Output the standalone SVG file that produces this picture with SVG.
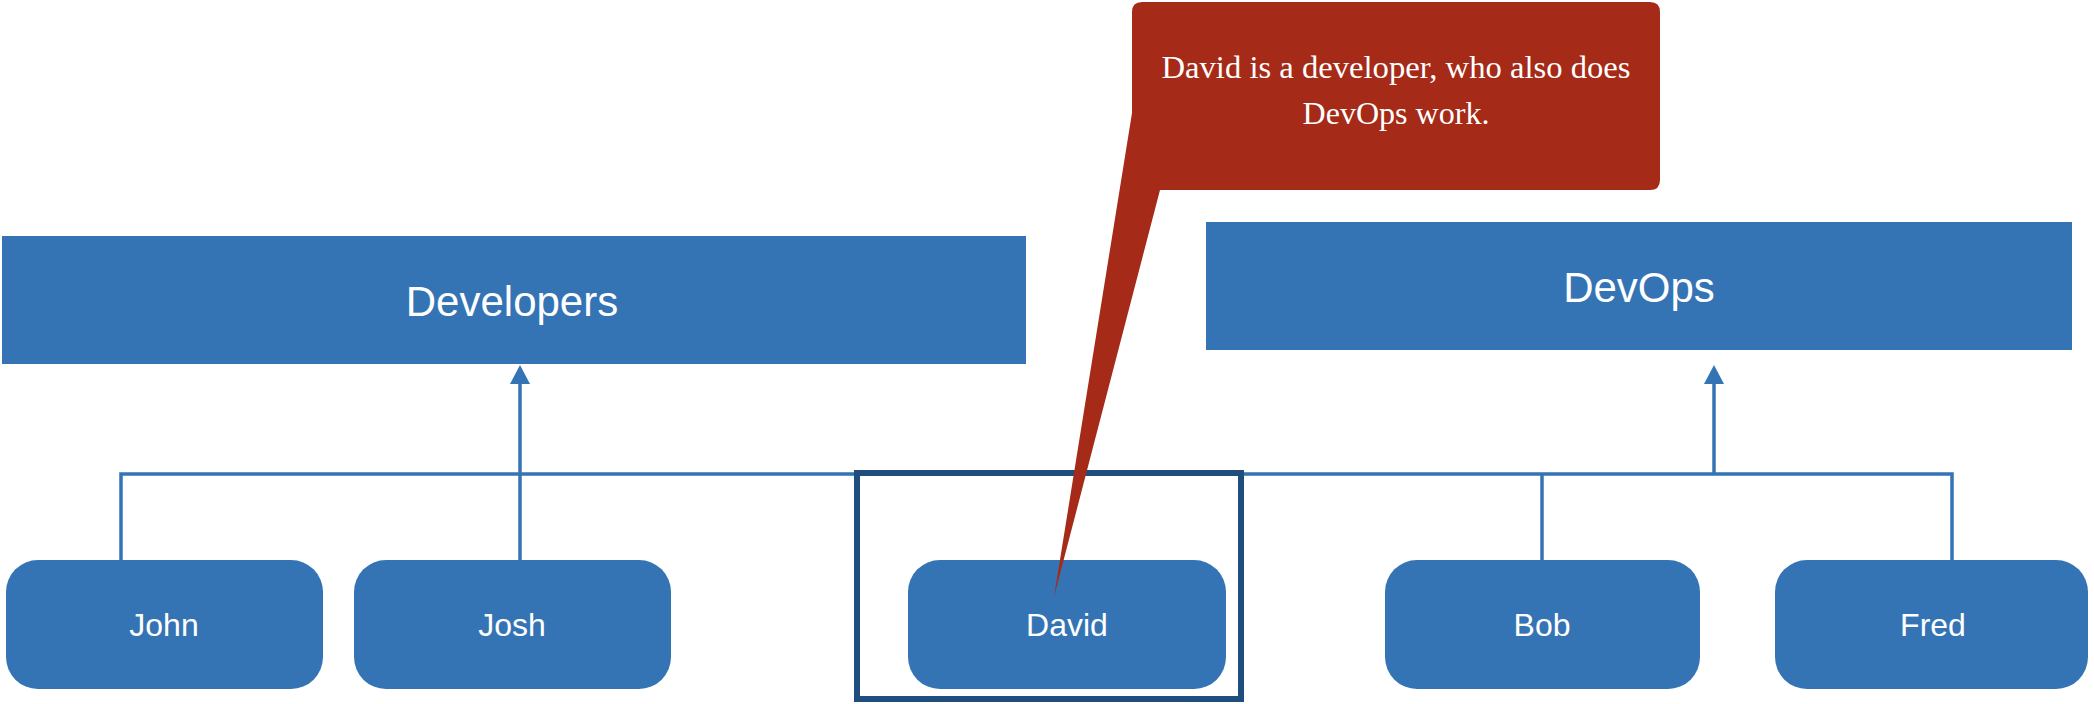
<svg xmlns="http://www.w3.org/2000/svg" width="2094" height="704" viewBox="0 0 2094 704">
<defs>
<style>
.grp{fill:#3474B5}
.node{fill:#3474B5}
.lbl{font-family:"Liberation Sans",Arial,sans-serif;fill:#ffffff;text-anchor:middle}
.big{font-size:42px}
.small{font-size:32px}
.conn{stroke:#3474B5;stroke-width:3.5;fill:none}
.note{font-family:"Liberation Serif","Times New Roman",serif;font-size:31px;fill:#ffffff;text-anchor:middle}
</style>
</defs>
<rect width="2094" height="704" fill="#ffffff"/>
<g id="developers"><rect class="grp" x="2" y="236" width="1024" height="128"/><text class="lbl big" x="512" y="316">Developers</text></g>
<g id="devops"><rect class="grp" x="1206" y="222" width="866" height="128"/><text class="lbl big" x="1639" y="302">DevOps</text></g>
<g id="connectors">
<path class="conn" d="M121,560 V474 H1952 V560"/>
<path class="conn" d="M520,560 V384"/>
<path class="conn" d="M1542,560 V474"/>
<path class="conn" d="M1714,474 V384"/>
<path d="M510,384 L520,365 L530,384 Z" fill="#3474B5"/>
<path d="M1704,384 L1714,365 L1724,384 Z" fill="#3474B5"/>
</g>
<g id="david-frame"><rect x="857" y="473" width="384" height="226" fill="none" stroke="#1F4E7E" stroke-width="6"/></g>
<g id="john"><rect class="node" x="6" y="560" width="317" height="129" rx="32"/><text class="lbl small" x="164" y="636">John</text></g>
<g id="josh"><rect class="node" x="354" y="560" width="317" height="129" rx="32"/><text class="lbl small" x="512" y="636">Josh</text></g>
<g id="david"><rect class="node" x="908" y="560" width="318" height="129" rx="32"/><text class="lbl small" x="1067" y="636">David</text></g>
<g id="bob"><rect class="node" x="1385" y="560" width="315" height="129" rx="32"/><text class="lbl small" x="1542" y="636">Bob</text></g>
<g id="fred"><rect class="node" x="1775" y="560" width="313" height="129" rx="32"/><text class="lbl small" x="1933" y="636">Fred</text></g>
<g id="callout">
<path d="M1142,2 H1650 Q1660,2 1660,12 V180 Q1660,190 1650,190 H1160 L1054,597 L1132,113 V12 Q1132,2 1142,2 Z" fill="#A52A17"/>
<text class="note" x="1396" y="78" textLength="469" lengthAdjust="spacingAndGlyphs">David is a developer, who also does</text>
<text class="note" x="1396" y="124" textLength="187" lengthAdjust="spacingAndGlyphs">DevOps work.</text>
</g>
</svg>
